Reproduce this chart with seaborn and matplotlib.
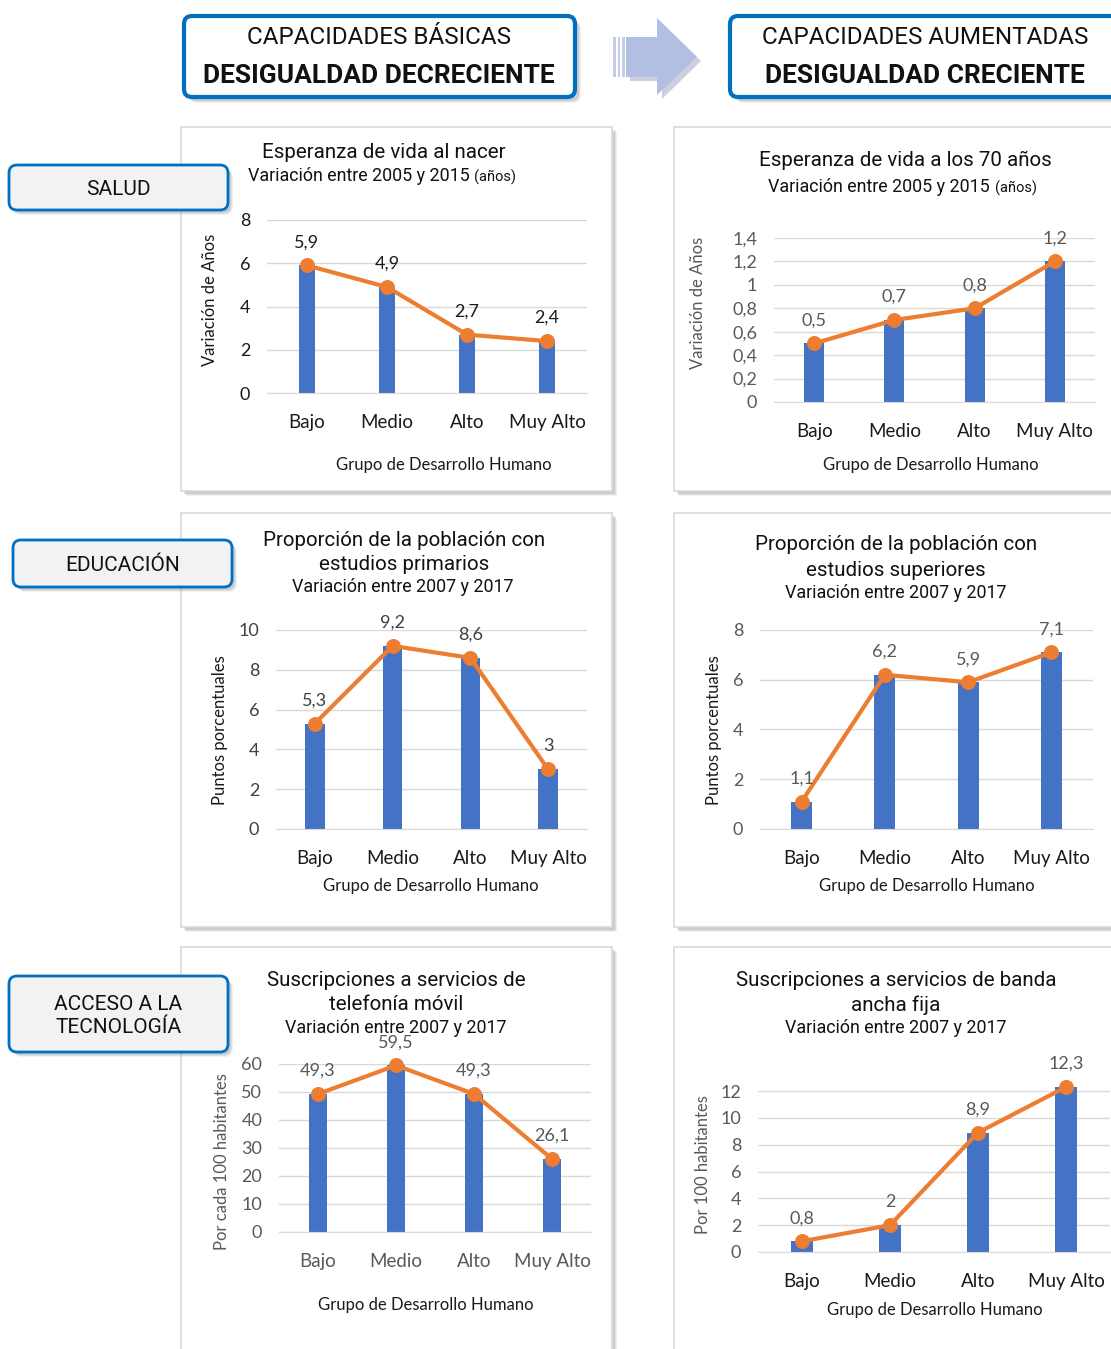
import numpy as np
import matplotlib
matplotlib.use('Agg')
import matplotlib.pyplot as plt
import seaborn as sns
from matplotlib.patches import Rectangle, FancyBboxPatch, Polygon
from matplotlib.ticker import FuncFormatter

# datos
categorias = ['Bajo', 'Medio', 'Alto', 'Muy Alto']
vida_nacer = [5.9, 4.9, 2.7, 2.4]
vida_70 = [0.5, 0.7, 0.8, 1.2]
primarios = [5.3, 9.2, 8.6, 3.0]
superiores = [1.1, 6.2, 5.9, 7.1]
movil = [49.3, 59.5, 49.3, 26.1]
banda = [0.8, 2.0, 8.9, 12.3]

AZUL = '#4472C4'
NARANJA = '#ED7D31'
BORDE = '#0070C0'
W, H = 1111, 1349

sns.set_style('white')
plt.rcParams['font.family'] = ['Lato', 'DejaVu Sans']
TITULO = ['Roboto', 'DejaVu Sans']


def coma(v, pos=None):
    return f'{v:g}'.replace('.', ',')


def caja(x0, y0, x1, y1):
    return [x0 / W, 1 - y1 / H, (x1 - x0) / W, (y1 - y0) / H]


fig = plt.figure(figsize=(W / 100, H / 100), dpi=100)
bg = fig.add_axes([0, 0, 1, 1])
bg.set_xlim(0, W)
bg.set_ylim(H, 0)
bg.axis('off')
bg.set_zorder(-1)


def sombra(x, y, w, h, off=4, rs=0):
    for i, a in enumerate([0.10, 0.14, 0.20]):
        d = off - i
        bg.add_patch(FancyBboxPatch((x + d, y + d), w, h,
                                    boxstyle=f'round,pad=0,rounding_size={rs}',
                                    fc='#7F7F7F', ec='none', alpha=a))


def panel(x0, y0, x1, y1):
    sombra(x0, y0, x1 - x0, y1 - y0, off=5)
    bg.add_patch(Rectangle((x0, y0), x1 - x0, y1 - y0, fc='white', ec='#D9D9D9', lw=1.2))


def etiqueta(x0, y0, x1, y1, texto):
    sombra(x0, y0, x1 - x0, y1 - y0, off=5, rs=8)
    bg.add_patch(FancyBboxPatch((x0, y0), x1 - x0, y1 - y0,
                                boxstyle='round,pad=0,rounding_size=8',
                                fc='#F2F2F2', ec=BORDE, lw=2))
    bg.text((x0 + x1) / 2, (y0 + y1) / 2 + 2, texto, ha='center', va='center',
            fontsize=15, family=TITULO, color='#111111', linespacing=1.25)


# cabecera
for x0, x1, l1, l2 in [(184, 575, 'CAPACIDADES BÁSICAS', 'DESIGUALDAD DECRECIENTE'),
                       (730, 1130, 'CAPACIDADES AUMENTADAS', 'DESIGUALDAD CRECIENTE')]:
    sombra(x0, 16, x1 - x0, 81, off=6, rs=8)
    bg.add_patch(FancyBboxPatch((x0, 16), x1 - x0, 81,
                                boxstyle='round,pad=0,rounding_size=8',
                                fc='white', ec=BORDE, lw=3))
    cx = 379 if x0 < 600 else 925
    bg.text(cx, 38, l1, ha='center', va='center', fontsize=17.5, family=TITULO, color='#111111')
    bg.text(cx, 76, l2, ha='center', va='center', fontsize=19, family=TITULO,
            fontweight='bold', color='#111111')

# flecha
bg.add_patch(Polygon([(630, 42), (662, 42), (662, 23), (701, 61), (662, 99), (662, 81), (630, 81)],
                     closed=True, fc='#9AA3BF', ec='none', alpha=0.5))
bg.add_patch(Polygon([(626, 37), (657, 37), (657, 18), (697, 57), (657, 95), (657, 77), (626, 77)],
                     closed=True, fc='#B3BEE3', ec='none'))
for xs in [613, 617.5, 622]:
    bg.add_patch(Rectangle((xs, 37), 2.5, 40, fc='#C3CCEA', ec='none'))

# paneles
for (x0, x1) in [(181, 612), (674, 1130)]:
    panel(x0, 127, x1, 491)
    panel(x0, 513, x1, 927)
    panel(x0, 947, x1, 1370)

etiqueta(9, 165, 228, 210, 'SALUD')
etiqueta(13, 540, 232, 587, 'EDUCACIÓN')
etiqueta(9, 976, 228, 1052, 'ACCESO A LA\nTECNOLOGÍA')


def grafico(px, valores, ymax, yticks, c_ticks, c_cats, ancho=0.22):
    ax = fig.add_axes(caja(*px))
    ax.set_facecolor('none')
    sns.barplot(x=categorias, y=valores, color=AZUL, width=ancho, saturation=1,
                linewidth=0, ax=ax, zorder=2)
    sns.lineplot(x=np.arange(4), y=valores, color=NARANJA, lw=3, marker='o',
                 markersize=10, markeredgecolor=NARANJA, ax=ax, zorder=3, clip_on=False)
    ax.set_xlim(-0.5, 3.5)
    ax.set_ylim(0, ymax)
    ax.set_yticks(yticks)
    ax.yaxis.set_major_formatter(FuncFormatter(coma))
    ax.set_xticks(range(4))
    ax.set_xticklabels(categorias)
    ax.yaxis.grid(True, color='#D9D9D9', lw=1)
    ax.set_axisbelow(True)
    for s in ['top', 'right', 'left']:
        ax.spines[s].set_visible(False)
    ax.spines['bottom'].set_color('#D9D9D9')
    ax.tick_params(axis='y', length=0, pad=12, labelsize=13, labelcolor=c_ticks)
    ax.tick_params(axis='x', length=0, pad=15, labelsize=13.5, labelcolor=c_cats)
    ax.set_xlabel('')
    ax.set_ylabel('')
    for i, v in enumerate(valores):
        ax.annotate(coma(v), (i, v), xytext=(0, 23), textcoords='offset pixels',
                    ha='center', va='center', fontsize=13, color=c_ticks)
    return ax


NEGRO = '#1A1A1A'
GRIS = '#595959'

grafico((267, 220, 587, 393), vida_nacer, 8, range(0, 9, 2), NEGRO, NEGRO, 0.2)
grafico((774, 238, 1095, 402), vida_70, 1.4, np.arange(0, 1.41, 0.2), GRIS, NEGRO, 0.25)
grafico((276, 630, 587, 829), primarios, 10, range(0, 11, 2), '#404040', NEGRO, 0.25)
grafico((760, 630, 1093, 829), superiores, 8, range(0, 9, 2), GRIS, NEGRO, 0.25)
grafico((279, 1064, 591, 1232), movil, 60, range(0, 61, 10), GRIS, GRIS, 0.23)
grafico((758, 1087, 1110, 1252), banda, 12.3, range(0, 13, 2), GRIS, NEGRO, 0.25)

# titulos
tt = dict(ha='center', va='center', family=TITULO, color='#111111')
sub = dict(va='center', family=TITULO, color='#111111')
bg.text(384, 153, 'Esperanza de vida al nacer', fontsize=14.8, **tt)
bg.text(470, 176, 'Variación entre 2005 y 2015', fontsize=12.9, ha='right', **sub)
bg.text(474, 177, '(años)', fontsize=10.5, ha='left', **sub)

bg.text(905, 160, 'Esperanza de vida a los 70 años', fontsize=14.8, **tt)
bg.text(990, 187, 'Variación entre 2005 y 2015', fontsize=12.9, ha='right', **sub)
bg.text(995, 188, '(años)', fontsize=10.5, ha='left', **sub)

bg.text(404, 540, 'Proporción de la población con', fontsize=14.8, **tt)
bg.text(404, 564, 'estudios primarios', fontsize=14.8, **tt)
bg.text(403, 587, 'Variación entre 2007 y 2017', fontsize=12.9, **tt)

bg.text(896, 545, 'Proporción de la población con', fontsize=14.8, **tt)
bg.text(896, 570, 'estudios superiores', fontsize=14.8, **tt)
bg.text(896, 593, 'Variación entre 2007 y 2017', fontsize=12.9, **tt)

bg.text(396, 980, 'Suscripciones a servicios de', fontsize=14.8, **tt)
bg.text(396, 1004, 'telefonía móvil', fontsize=14.8, **tt)
bg.text(396, 1028, 'Variación entre 2007 y 2017', fontsize=12.9, **tt)

bg.text(896, 980, 'Suscripciones a servicios de banda', fontsize=14.8, **tt)
bg.text(896, 1005, 'ancha fija', fontsize=14.8, **tt)
bg.text(896, 1028, 'Variación entre 2007 y 2017', fontsize=12.9, **tt)

# ejes
for x, y, txt, col in [(210, 300, 'Variación de Años', NEGRO),
                       (698, 303, 'Variación de Años', GRIS),
                       (220, 730, 'Puntos porcentuales', NEGRO),
                       (714, 730, 'Puntos porcentuales', NEGRO),
                       (222, 1162, 'Por cada 100 habitantes', GRIS),
                       (703, 1165, 'Por 100 habitantes', GRIS)]:
    bg.text(x, y, txt, rotation=90, ha='center', va='center', fontsize=12, color=col)

for x, y in [(444, 465), (931, 465), (431, 886), (927, 886), (426, 1305), (935, 1310)]:
    bg.text(x, y, 'Grupo de Desarrollo Humano', ha='center', va='center', fontsize=12, color=NEGRO)

fig.savefig('out.png', dpi=100)
